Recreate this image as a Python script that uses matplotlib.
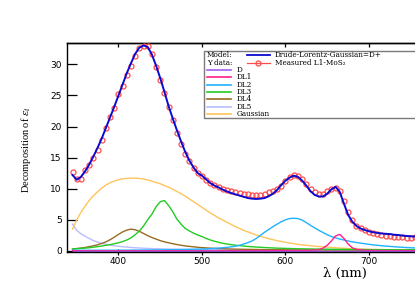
import matplotlib
matplotlib.use("Agg")
import matplotlib.pyplot as plt
from matplotlib.lines import Line2D
from matplotlib.patches import Rectangle

plt.rcParams['mathtext.fontset'] = 'dejavuserif'

# ---------------- data ----------------
wavelength = [345, 350, 355, 360, 365, 370, 375, 380, 385, 390, 395, 400, 405, 410, 415, 420,
              425, 430, 435, 440, 445, 450, 455, 460, 465, 470, 475, 480, 485, 490, 495, 500,
              505, 510, 515, 520, 525, 530, 535, 540, 545, 550, 555, 560, 565, 570, 575, 580,
              585, 590, 595, 600, 605, 610, 615, 620, 625, 630, 635, 640, 645, 650, 655, 660,
              665, 670, 675, 680, 685, 690, 695, 700, 705, 710, 715, 720, 725, 730, 735, 740,
              745, 750, 755]

measured = [12.75, 11.5, 11.5, 13.0, 13.8, 15.0, 16.3, 17.9, 19.8, 21.5, 23.0, 25.2, 26.5, 28.3, 29.8, 31.4,
            32.6, 33.0, 33.0, 31.6, 29.6, 27.5, 25.4, 23.2, 21.1, 19.0, 17.2, 15.6, 14.4, 13.4, 12.6, 12.0,
            11.4, 11.0, 10.6, 10.3, 10.0, 9.8, 9.6, 9.4, 9.3, 9.15, 9.1, 9.0, 9.0, 9.05, 9.2, 9.45,
            9.7, 10.0, 10.5, 11.2, 11.9, 12.2, 12.1, 11.6, 10.8, 10.0, 9.4, 9.1, 9.2, 9.6, 10.0, 10.1,
            9.6, 8.0, 6.2, 4.9, 4.0, 3.65, 3.3, 3.05, 2.85, 2.7, 2.55, 2.45, 2.35, 2.3, 2.25, 2.2,
            2.15, 2.15, 2.2]

model = [12.2, 11.45, 11.9, 12.8, 13.9, 15.2, 16.6, 18.1, 19.8, 21.5, 23.2, 25.0, 26.8, 28.6, 30.2, 31.7,
         32.7, 33.05, 32.8, 31.6, 29.8, 27.8, 25.6, 23.3, 21.3, 19.4, 17.6, 15.9, 14.5, 13.4, 12.5, 12.1,
         11.5, 10.9, 10.5, 10.2, 9.85, 9.55, 9.3, 9.1, 8.9, 8.7, 8.5, 8.4, 8.35, 8.4, 8.5, 8.8,
         9.2, 9.8, 10.6, 11.3, 11.8, 12.1, 11.9, 11.3, 10.5, 9.6, 9.0, 8.75, 8.75, 9.2, 9.9, 10.3,
         9.5, 7.6, 5.8, 4.7, 4.0, 3.6, 3.35, 3.15, 3.0, 2.9, 2.8, 2.75, 2.7, 2.6, 2.55, 2.45,
         2.4, 2.35, 2.3]

comp_D = [0.03, 0.03, 0.03, 0.03, 0.03, 0.03, 0.03, 0.03, 0.03, 0.03, 0.03, 0.03, 0.03, 0.03, 0.03, 0.03,
          0.03, 0.03, 0.03, 0.03, 0.03, 0.03, 0.03, 0.03, 0.03, 0.03, 0.03, 0.03, 0.03, 0.03, 0.03, 0.03,
          0.03, 0.03, 0.03, 0.03, 0.03, 0.03, 0.03, 0.03, 0.03, 0.03, 0.03, 0.03, 0.03, 0.03, 0.03, 0.03,
          0.03, 0.03, 0.03, 0.03, 0.03, 0.03, 0.03, 0.03, 0.03, 0.03, 0.03, 0.03, 0.03, 0.03, 0.03, 0.03,
          0.03, 0.03, 0.03, 0.03, 0.03, 0.03, 0.03, 0.03, 0.03, 0.03, 0.03, 0.03, 0.03, 0.03, 0.03, 0.03,
          0.03, 0.03, 0.03]

comp_DL1 = [0.02, 0.02, 0.02, 0.02, 0.02, 0.02, 0.02, 0.02, 0.02, 0.02, 0.02, 0.02, 0.02, 0.02, 0.02, 0.02,
            0.02, 0.02, 0.02, 0.02, 0.02, 0.02, 0.02, 0.02, 0.02, 0.02, 0.02, 0.02, 0.02, 0.02, 0.02, 0.02,
            0.02, 0.02, 0.02, 0.02, 0.02, 0.02, 0.03, 0.03, 0.03, 0.03, 0.03, 0.03, 0.03, 0.03, 0.04, 0.04,
            0.04, 0.04, 0.05, 0.05, 0.05, 0.06, 0.06, 0.07, 0.08, 0.1, 0.13, 0.2, 0.45, 0.9, 1.6, 2.4,
            2.65, 2.0, 1.1, 0.5, 0.25, 0.15, 0.1, 0.08, 0.07, 0.06, 0.05, 0.05, 0.05, 0.04, 0.04, 0.04,
            0.04, 0.04, 0.04]

comp_DL2 = [0.1, 0.1, 0.1, 0.1, 0.1, 0.1, 0.1, 0.1, 0.1, 0.11, 0.11, 0.11, 0.12, 0.12, 0.12, 0.13,
            0.13, 0.14, 0.14, 0.15, 0.15, 0.16, 0.17, 0.18, 0.19, 0.2, 0.21, 0.22, 0.24, 0.26, 0.28, 0.3,
            0.33, 0.36, 0.4, 0.45, 0.5, 0.57, 0.65, 0.75, 0.9, 1.1, 1.32, 1.6, 2.0, 2.5, 3.0, 3.45,
            3.9, 4.3, 4.7, 5.0, 5.2, 5.25, 5.2, 4.95, 4.55, 4.1, 3.7, 3.3, 2.95, 2.6, 2.3, 2.1,
            1.9, 1.75, 1.6, 1.45, 1.35, 1.25, 1.15, 1.05, 0.97, 0.9, 0.83, 0.77, 0.72, 0.67, 0.62, 0.58,
            0.54, 0.5, 0.47]

comp_DL3 = [0.3, 0.35, 0.4, 0.45, 0.5, 0.6, 0.68, 0.78, 0.9, 1.0, 1.15, 1.3, 1.5, 1.75, 2.1, 2.6,
            3.2, 4.0, 5.0, 5.9, 7.1, 7.9, 8.1, 7.3, 6.3, 5.1, 4.3, 3.6, 3.2, 2.85, 2.55, 2.3,
            2.0, 1.75, 1.55, 1.38, 1.22, 1.1, 1.0, 0.92, 0.84, 0.77, 0.71, 0.66, 0.62, 0.58, 0.54, 0.5,
            0.47, 0.44, 0.42, 0.4, 0.38, 0.36, 0.34, 0.33, 0.32, 0.31, 0.3, 0.29, 0.28, 0.27, 0.26, 0.25,
            0.25, 0.24, 0.23, 0.23, 0.22, 0.22, 0.21, 0.21, 0.2, 0.2, 0.2, 0.19, 0.19, 0.19, 0.18, 0.18,
            0.18, 0.18, 0.18]

comp_DL4 = [0.3, 0.38, 0.45, 0.55, 0.68, 0.82, 0.98, 1.2, 1.45, 1.8, 2.2, 2.65, 3.05, 3.35, 3.5, 3.4,
            3.15, 2.8, 2.45, 2.15, 1.9, 1.65, 1.45, 1.3, 1.15, 1.02, 0.9, 0.8, 0.72, 0.65, 0.58, 0.52,
            0.48, 0.44, 0.4, 0.37, 0.34, 0.32, 0.3, 0.28, 0.27, 0.25, 0.24, 0.23, 0.22, 0.21, 0.2, 0.19,
            0.19, 0.18, 0.18, 0.17, 0.17, 0.16, 0.16, 0.16, 0.15, 0.15, 0.15, 0.14, 0.14, 0.14, 0.14, 0.13,
            0.13, 0.13, 0.13, 0.13, 0.12, 0.12, 0.12, 0.12, 0.12, 0.12, 0.12, 0.12, 0.12, 0.12, 0.12, 0.12,
            0.12, 0.12, 0.12]

comp_DL5 = [4.3, 3.3, 2.75, 2.35, 2.0, 1.65, 1.4, 1.2, 1.05, 0.92, 0.82, 0.74, 0.67, 0.6, 0.55, 0.5,
            0.46, 0.43, 0.4, 0.37, 0.35, 0.33, 0.31, 0.3, 0.28, 0.27, 0.26, 0.25, 0.24, 0.23, 0.22, 0.21,
            0.21, 0.2, 0.19, 0.19, 0.18, 0.18, 0.17, 0.17, 0.16, 0.16, 0.15, 0.15, 0.15, 0.14, 0.14, 0.14,
            0.13, 0.13, 0.13, 0.12, 0.12, 0.12, 0.12, 0.11, 0.11, 0.11, 0.11, 0.1, 0.1, 0.1, 0.1, 0.1,
            0.1, 0.1, 0.09, 0.09, 0.09, 0.09, 0.09, 0.09, 0.09, 0.09, 0.08, 0.08, 0.08, 0.08, 0.08, 0.08,
            0.08, 0.08, 0.08]

comp_Gauss = [3.5, 5.0, 6.2, 7.2, 8.1, 8.9, 9.5, 10.1, 10.6, 10.95, 11.25, 11.45, 11.6, 11.65, 11.7, 11.7,
              11.65, 11.55, 11.4, 11.2, 11.0, 10.8, 10.5, 10.25, 9.9, 9.55, 9.2, 8.8, 8.35, 7.9, 7.45, 7.0,
              6.55, 6.1, 5.7, 5.3, 4.95, 4.6, 4.25, 3.9, 3.6, 3.3, 3.05, 2.8, 2.55, 2.35, 2.15, 1.95,
              1.8, 1.65, 1.5, 1.38, 1.27, 1.15, 1.05, 0.97, 0.9, 0.82, 0.76, 0.7, 0.65, 0.6, 0.55, 0.5,
              0.46, 0.42, 0.38, 0.35, 0.32, 0.3, 0.27, 0.25, 0.23, 0.21, 0.2, 0.18, 0.17, 0.16, 0.15, 0.14,
              0.13, 0.12, 0.11]

x_ticks = [400, 500, 600, 700]
y_ticks = [0, 5, 10, 15, 20, 25, 30]

component_names = ["D", "DL1", "DL2", "DL3", "DL4", "DL5", "Gaussian"]
component_colors = ["#a45cf0", "#ff1f8e", "#1eb2ff", "#22cc22", "#9a6a22", "#b9bcff", "#ffc45a"]
component_data = [comp_D, comp_DL1, comp_DL2, comp_DL3, comp_DL4, comp_DL5, comp_Gauss]

model_label = "Drude-Lorentz-Gaussian=D+"
data_label = "Measured L1-MoS\u2082"

model_color = "#0a0ad0"
data_color = "#ff4d4d"

# ---------------- figure ----------------
W, H = 415, 283
fig = plt.figure(figsize=(W / 100, H / 100), dpi=100)
ax = fig.add_axes([66.7 / W, 1 - 251.5 / H, (423 - 66.7) / W, (251.5 - 42.7) / H])

draw_order = [5, 6, 4, 3, 2, 1, 0]
for i in draw_order:
    ax.plot(wavelength, component_data[i], color=component_colors[i], lw=1.0, zorder=2)

ax.plot(wavelength, measured, linestyle="none", marker="o", markersize=3.6,
        markerfacecolor="none", markeredgecolor=data_color, markeredgewidth=0.9, zorder=3)
ax.plot(wavelength, model, color=model_color, lw=1.4, zorder=4)

ax.set_xlim(338.0, 764.7)
ax.set_ylim(-0.1, 33.49)
ax.set_xticks(x_ticks)
ax.set_yticks(y_ticks)

for s in ["left", "top", "bottom"]:
    ax.spines[s].set_linewidth(1.0)
ax.spines["right"].set_visible(False)

ax.tick_params(axis="y", direction="in", length=7, width=0.9, pad=3.5,
               labelsize=6.5, left=True, right=False)
ax.tick_params(axis="x", direction="inout", length=4, width=0.9, pad=2.0,
               labelsize=6.5, top=False)
for lab in ax.get_xticklabels() + ax.get_yticklabels():
    lab.set_family("DejaVu Sans")

# top ticks pointing inward
sec = ax.secondary_xaxis("top")
sec.set_xticks(x_ticks)
sec.tick_params(direction="in", length=3, width=0.9, labeltop=False)
sec.spines["top"].set_linewidth(1.0)

ax.set_ylabel(r"Decomposition of $\epsilon_i$", family="Liberation Serif", fontsize=7.5)
ax.yaxis.set_label_coords(-0.095, 0.49)
ax.set_xlabel("λ (nm)", family="DejaVu Serif", fontsize=9.5)
ax.xaxis.label.set_va("center")
ax.xaxis.set_label_coords(0.78, -0.103)

# ---------------- legend (drawn in figure pixel coordinates) ----------------
def fx(px):
    return px / W

def fy(py):
    return 1 - py / H

box = Rectangle((fx(204.3), fy(118.3)), fx(430) - fx(204.3), fy(50.7) - fy(118.3),
                transform=fig.transFigure, facecolor="white", edgecolor="#7a7a7a",
                lw=1.0, zorder=10)
fig.add_artist(box)

leg_font = dict(family="DejaVu Serif", fontsize=5.2, va="center", ha="left", zorder=11)
rows = [55.3, 62.9, 70.3, 77.5, 84.8, 92.0, 99.3, 106.6, 113.8]

fig.text(fx(206.7), fy(rows[0]), "Model:", **leg_font)
fig.add_artist(Line2D([fx(246.7), fx(270)], [fy(rows[0])] * 2, transform=fig.transFigure,
                      color=model_color, lw=1.3, zorder=11))
fig.text(fx(275), fy(rows[0]), model_label, **leg_font)

fig.text(fx(206.7), fy(rows[1]), "Y data:", **leg_font)
fig.add_artist(Line2D([fx(246.7), fx(270)], [fy(rows[1])] * 2, transform=fig.transFigure,
                      color=data_color, lw=0.9, zorder=11))
fig.add_artist(Line2D([fx(258.3)], [fy(rows[1])], transform=fig.transFigure, linestyle="none",
                      marker="o", markersize=3.6, markerfacecolor="none",
                      markeredgecolor=data_color, markeredgewidth=0.9, zorder=12))
fig.text(fx(275), fy(rows[1]), data_label, **leg_font)

for k, (name, col) in enumerate(zip(component_names, component_colors)):
    yy = fy(rows[k + 2])
    fig.add_artist(Line2D([fx(206.7), fx(231)], [yy, yy], transform=fig.transFigure,
                          color=col, lw=1.2, zorder=11))
    fig.text(fx(236.7), yy, name, **leg_font)

fig.savefig("out.png", dpi=100)
